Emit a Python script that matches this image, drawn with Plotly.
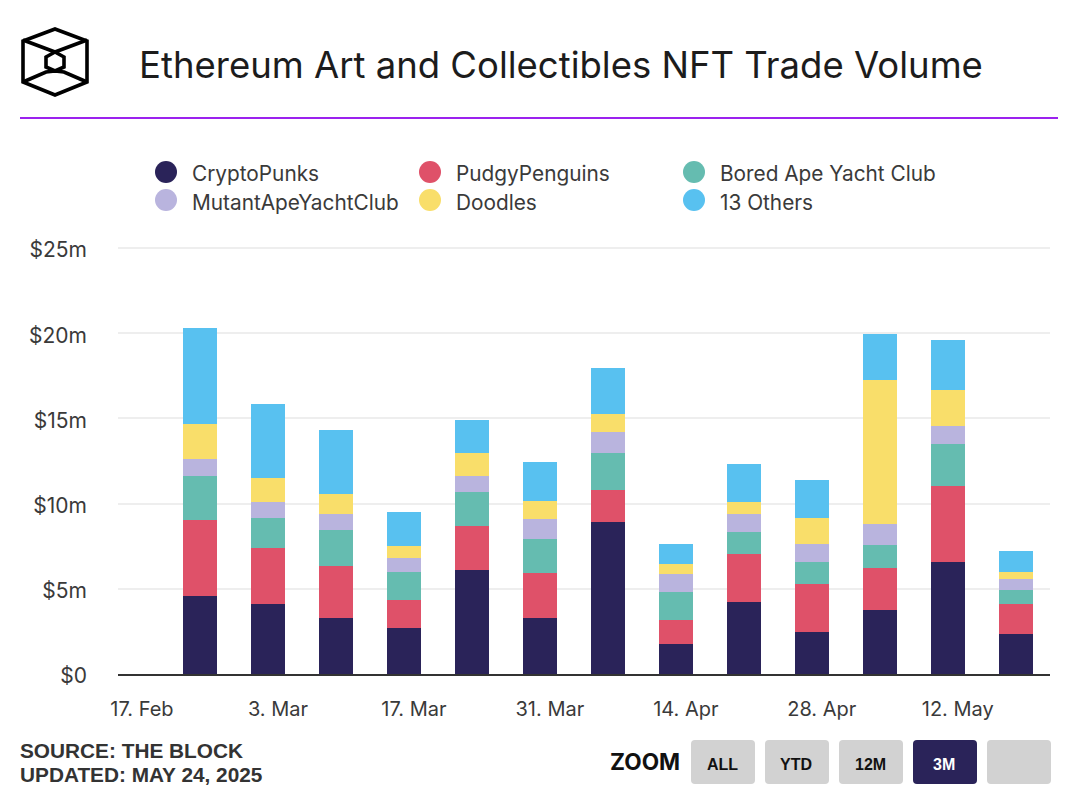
import plotly.graph_objects as go

# weekly values in $m
weeks = ["2025-02-23", "2025-03-02", "2025-03-09", "2025-03-16", "2025-03-23", "2025-03-30", "2025-04-06",
         "2025-04-13", "2025-04-20", "2025-04-27", "2025-05-04", "2025-05-11", "2025-05-18"]
punks = [4.6, 4.1, 3.3, 2.7, 6.1, 3.3, 8.9, 1.75, 4.2, 2.45, 3.75, 6.6, 2.35]
pudgy = [4.45, 3.3, 3.05, 1.65, 2.6, 2.6, 1.9, 1.4, 2.85, 2.85, 2.45, 4.45, 1.75]
bayc = [2.6, 1.75, 2.1, 1.65, 2.0, 2.0, 2.2, 1.65, 1.3, 1.3, 1.4, 2.45, 0.85]
mayc = [0.95, 0.95, 0.95, 0.8, 0.95, 1.2, 1.2, 1.05, 1.05, 1.05, 1.2, 1.05, 0.6]
doodles = [2.1, 1.4, 1.15, 0.7, 1.3, 1.05, 1.05, 0.6, 0.7, 1.5, 8.45, 2.1, 0.45]
others = [5.6, 4.35, 3.75, 2.0, 1.95, 2.3, 2.7, 1.2, 2.2, 2.25, 2.7, 2.95, 1.2]

series_names = ["CryptoPunks", "PudgyPenguins", "Bored Ape Yacht Club", "MutantApeYachtClub", "Doodles", "13 Others"]
series_values = [punks, pudgy, bayc, mayc, doodles, others]
series_colors = ["#2a2359", "#df5169", "#65bcb0", "#b9b4de", "#f9de6a", "#58c1f0"]

x_tickvals = ["2025-02-17", "2025-03-03", "2025-03-17", "2025-03-31", "2025-04-14", "2025-04-28", "2025-05-12"]
x_ticktext = ["17. Feb", "3. Mar", "17. Mar", "31. Mar", "14. Apr", "28. Apr", "12. May"]
y_tickvals = [0, 5, 10, 15, 20, 25]
y_ticktext = ["$0", "$5m", "$10m", "$15m", "$20m", "$25m"]

zoom_labels = ["ALL", "YTD", "12M", "3M", ""]

W, H = 1078, 802
FONT = "Inter"
TEXT = "#3a3a3a"
DAY_MS = 24 * 3600 * 1000
# y axis runs a bit past 25 so plotly keeps the top gridline
PLOT_TOP = 231


# page pixels to paper coordinates
def px(x):
    return (x - 118) / (1050 - 118)


def py(y):
    return (674 - y) / (674 - PLOT_TOP)


def text(x, y, s, size, color=TEXT, family=FONT, anchor="left", weight=400):
    fig.add_annotation(x=px(x), y=py(y), xref="paper", yref="paper", text=s, showarrow=False,
                       xanchor=anchor, yanchor="middle", align=anchor,
                       font=dict(family=family, size=size, color=color, weight=weight))


def path(d, **kw):
    fig.add_shape(type="path", path=d, xref="paper", yref="paper", layer="above", **kw)


def poly(points, close=True):
    d = "M " + " L ".join(f"{px(a)},{py(b)}" for a, b in points)
    return d + (" Z" if close else "")


def round_rect(x0, y0, x1, y1, r=4):
    return (f"M {px(x0 + r)},{py(y0)} L {px(x1 - r)},{py(y0)} Q {px(x1)},{py(y0)} {px(x1)},{py(y0 + r)} "
            f"L {px(x1)},{py(y1 - r)} Q {px(x1)},{py(y1)} {px(x1 - r)},{py(y1)} "
            f"L {px(x0 + r)},{py(y1)} Q {px(x0)},{py(y1)} {px(x0)},{py(y1 - r)} "
            f"L {px(x0)},{py(y0 + r)} Q {px(x0)},{py(y0)} {px(x0 + r)},{py(y0)} Z")


fig = go.Figure()
for name, values, color in zip(series_names, series_values, series_colors):
    fig.add_trace(go.Bar(x=weeks, y=values, name=name, marker=dict(color=color, line=dict(width=0)),
                         width=3.5 * DAY_MS))

fig.update_layout(
    width=W, height=H, barmode="stack", showlegend=False,
    paper_bgcolor="white", plot_bgcolor="white",
    margin=dict(l=118, r=W - 1050, t=PLOT_TOP, b=H - 674, autoexpand=False),
    font=dict(family=FONT, color=TEXT),
    xaxis=dict(type="date", range=["2025-02-14 12:45", "2025-05-21 12:00"], tickvals=x_tickvals,
               ticktext=x_ticktext, tickfont=dict(size=20, color=TEXT), showgrid=False, ticks="",
               showline=True, linecolor="#333333", linewidth=2, zeroline=False, ticklabelstandoff=16),
    yaxis=dict(range=[0, 26], tickvals=y_tickvals, ticktext=y_ticktext, tickfont=dict(size=21, color=TEXT),
               showgrid=True, gridcolor="#eeeeee", gridwidth=2, zeroline=False, ticks="",
               ticklabelstandoff=30, ticklabelshift=2),
)

# header
text(137, 65, "Ethereum Art and Collectibles NFT Trade Volume", 36.5, color="#1c1c1c")
fig.add_shape(type="line", xref="paper", yref="paper", x0=px(20), x1=px(1058), y0=py(118), y1=py(118),
              line=dict(color="#9b22ee", width=2))

# logo
logo = dict(color="black", width=3.6)
path(poly([(55, 29), (87, 41), (87, 82), (55, 95), (23, 82), (23, 41)]), line=logo)
path(poly([(55, 52), (64, 57), (64, 67), (55, 71), (46, 67), (46, 57)]), line=logo)
path(poly([(23, 40), (55, 52), (87, 40)], close=False), line=logo)
path(poly([(23, 82), (46, 72), (55, 71), (64, 72), (87, 82)], close=False), line=logo)

# legend, 3 columns 2 rows
legend_x = [166, 430, 694]
legend_y = [172, 200]
for i, (name, color) in enumerate(zip(series_names, series_colors)):
    cx, cy = legend_x[i % 3], legend_y[i // 3]
    fig.add_shape(type="circle", xref="paper", yref="paper", x0=px(cx - 11), x1=px(cx + 11),
                  y0=py(cy + 11), y1=py(cy - 11), fillcolor=color, line=dict(width=0))
    text(cx + 24, cy + 2, name, 20.8)

# footer
text(18, 750, "SOURCE: THE BLOCK", 20.8, color="#333333", family="Liberation Sans", weight=700)
text(18, 774, "UPDATED: MAY 24, 2025", 20.8, color="#333333", family="Liberation Sans", weight=700)
text(608, 761, "ZOOM", 22.6, color="#111111", family="Inter", weight=700)

for i, label in enumerate(zoom_labels):
    x0 = 691 + i * 74
    active = label == "3M"
    path(round_rect(x0, 740, x0 + 64, 784), fillcolor="#2a2359" if active else "#d2d2d2", line=dict(width=0))
    if label:
        text(x0 + 31, 764, label, 16, color="white" if active else "#111111", family="Liberation Sans",
             anchor="center", weight=700)

fig.write_html("out.html", config={"displayModeBar": False}, post_script="document.body.style.margin='0';")
